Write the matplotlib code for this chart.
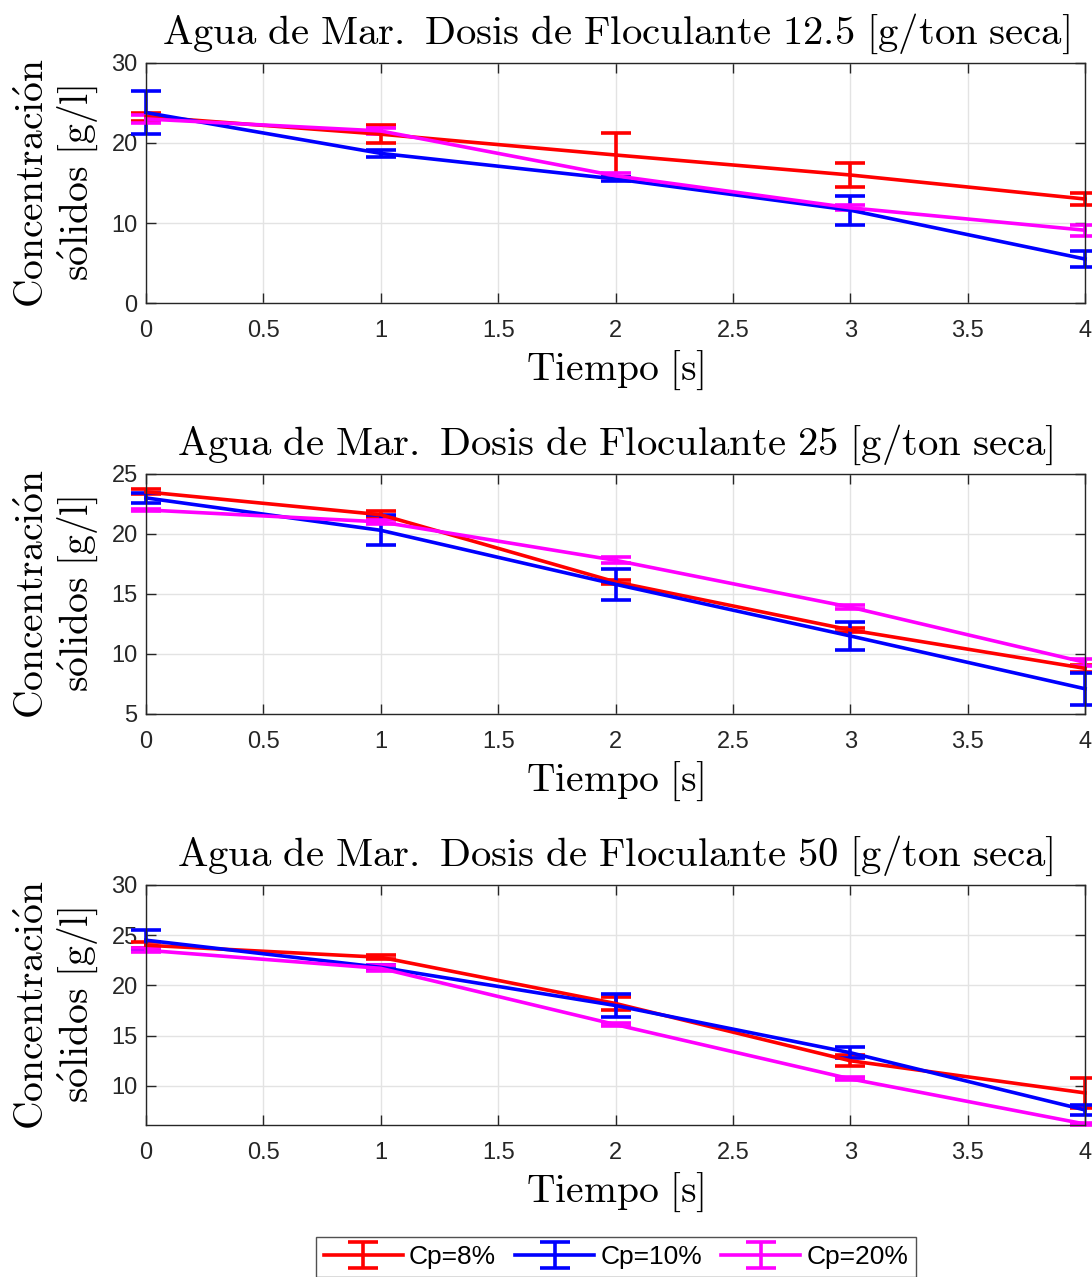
import matplotlib
matplotlib.use('Agg')
import matplotlib.pyplot as plt
import numpy as np

plt.rcParams['mathtext.fontset'] = 'cm'
plt.rcParams['font.family'] = ['Liberation Sans', 'DejaVu Sans']

# tiempo [s]
t = [0, 1, 2, 3, 4]

# dosis 12.5 g/ton
c8_125 = [23.3, 21.1, 18.5, 16.0, 13.0]
e8_125 = [0.5, 1.1, 2.7, 1.45, 0.8]
c10_125 = [23.8, 18.7, 15.5, 11.6, 5.5]
e10_125 = [2.7, 0.4, 0.3, 1.8, 0.95]
c20_125 = [23.0, 21.5, 15.9, 11.9, 9.1]
e20_125 = [0.5, 0.4, 0.3, 0.3, 0.7]

# dosis 25 g/ton
c8_25 = [23.5, 21.6, 16.0, 12.0, 8.8]
e8_25 = [0.2, 0.3, 0.2, 0.2, 0.3]
c10_25 = [23.0, 20.3, 15.8, 11.5, 7.1]
e10_25 = [0.45, 1.25, 1.27, 1.15, 1.33]
c20_25 = [22.0, 21.0, 17.8, 13.9, 9.3]
e20_25 = [0.1, 0.2, 0.25, 0.15, 0.3]

# dosis 50 g/ton
c8_50 = [24.0, 22.8, 18.2, 12.5, 9.3]
e8_50 = [0.3, 0.2, 0.6, 0.55, 1.5]
c10_50 = [24.5, 21.8, 18.0, 13.3, 7.6]
e10_50 = [1.05, 0.2, 1.1, 0.55, 0.5]
c20_50 = [23.5, 21.7, 16.1, 10.7, 6.2]
e20_50 = [0.2, 0.3, 0.15, 0.15, 0.1]

doses = ['12.5', '25', '50']
labels = ['Cp=8%', 'Cp=10%', 'Cp=20%']
colors = ['#ff0000', '#0000ff', '#ff00ff']
series = [
    [(c8_125, e8_125), (c10_125, e10_125), (c20_125, e20_125)],
    [(c8_25, e8_25), (c10_25, e10_25), (c20_25, e20_25)],
    [(c8_50, e8_50), (c10_50, e10_50), (c20_50, e20_50)],
]
ylims = [(0, 30), (5, 25), (6.1, 30)]
yticks = [[0, 10, 20, 30], [5, 10, 15, 20, 25], [10, 15, 20, 25, 30]]
xticks = [0, 0.5, 1, 1.5, 2, 2.5, 3, 3.5, 4]
xticklabels = ['0', '0.5', '1', '1.5', '2', '2.5', '3', '3.5', '4']

fig = plt.figure(figsize=(10.92, 12.77), dpi=100)
bottoms = [0.7627, 0.4409, 0.1190]
dark = '#262626'

handles = []
for i in range(3):
    ax = fig.add_axes([0.1337, bottoms[i], 0.8599, 0.188])
    for (c, e), col, lab in zip(series[i], colors, labels):
        h = ax.errorbar(t, c, yerr=e, color=col, lw=2.6, capsize=11, capthick=2.6,
                        elinewidth=2.6, label=lab, clip_on=False)
        if i == 0:
            handles.append(h)
    ax.set_xlim(0, 4)
    ax.set_ylim(*ylims[i])
    ax.set_xticks(xticks)
    ax.set_xticklabels(xticklabels)
    ax.set_yticks(yticks[i])
    ax.grid(True, color='#e3e3e3', lw=1)
    ax.set_axisbelow(True)
    ax.tick_params(direction='in', top=True, right=True, length=7, width=1,
                   labelsize=17, colors=dark, labelcolor=dark)
    ax.tick_params(axis='x', pad=12)
    ax.tick_params(axis='y', pad=6)
    for s in ax.spines.values():
        s.set_color(dark)
        s.set_linewidth(1)
    ax.set_title(r'$\mathrm{Agua\ de\ Mar.\ Dosis\ de\ Floculante\ ' + doses[i] + r'\ [g/ton\ seca]}$',
                 fontsize=29.3, pad=14)
    ax.set_xlabel(r'$\mathrm{Tiempo\ [s]}$', fontsize=28.5, labelpad=5)
    ax.set_ylabel(r"$\mathrm{Concentraci\'on}$" + '\n' + r"$\mathrm{s\'olidos\ [g/l]}$",
                  fontsize=28.5, labelpad=8, linespacing=1.12)

leg = fig.legend(handles=handles, loc='upper center', bbox_to_anchor=(0.564, 0.0313),
                 ncol=3, fontsize=19, frameon=True, fancybox=False, edgecolor=dark,
                 handlelength=3.0, columnspacing=0.72, handletextpad=0.23, borderpad=0.3,
                 borderaxespad=0)
leg.get_frame().set_linewidth(1)

fig.savefig('out.png', dpi=100)
